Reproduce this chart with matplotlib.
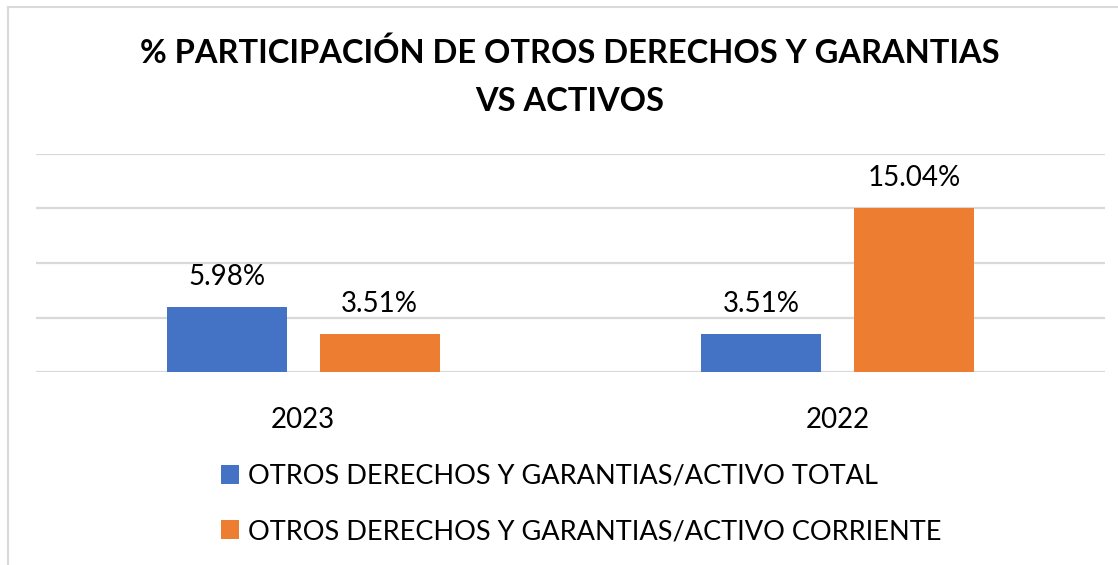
import matplotlib
matplotlib.use("Agg")
import matplotlib.pyplot as plt
import numpy as np
from matplotlib.patches import Patch
from matplotlib.lines import Line2D

categories = ["2023", "2022"]
series_names = ["OTROS DERECHOS Y GARANTIAS/ACTIVO TOTAL",
                "OTROS DERECHOS Y GARANTIAS/ACTIVO CORRIENTE"]
activo_total = [5.98, 3.51]
activo_corriente = [3.51, 15.04]
colors = ["#4472C4", "#ED7D31"]
title = "% PARTICIPACIÓN DE OTROS DERECHOS Y GARANTIAS\nVS ACTIVOS"

plt.rcParams['font.family'] = ['Lato', 'DejaVu Sans']

fig = plt.figure(figsize=(11.18, 5.65), dpi=100)
ax = fig.add_axes([36/1118, 1-372/565, (1105-36)/1118, (372-154)/565])

x = np.arange(len(categories))
w = 0.2245
off = 0.143
for vals, c, sgn in [(activo_total, colors[0], -1), (activo_corriente, colors[1], 1)]:
    bars = ax.bar(x + sgn*off, vals, width=w, color=c, zorder=3)
    for b, v in zip(bars, vals):
        ax.annotate(f"{v:.2f}%", (b.get_x()+b.get_width()/2, v), xytext=(0, 12),
                    textcoords="offset points", ha="center", va="bottom",
                    fontsize=20, color="#000000")

ax.set_xlim(-0.5, 1.5)
ax.set_ylim(0, 20)
ax.set_yticks([0, 5, 10, 15, 20])
ax.yaxis.grid(True, color="#D9D9D9", linewidth=1.6, zorder=0)
ax.set_axisbelow(True)
ax.tick_params(axis='y', left=False, labelleft=False)
ax.tick_params(axis='x', bottom=False, labelsize=20, pad=22, labelcolor="#000000")
ax.set_xticks(x)
ax.set_xticklabels(categories)
for s in ax.spines.values():
    s.set_visible(False)

fig.text(0.51, 1-77/565, title, ha="center", va="center", fontsize=23.5,
         fontweight="bold", linespacing=1.8, color="#000000")

handles = [Patch(facecolor=c, edgecolor='none') for c in colors]
fig.legend(handles, series_names, loc="center left",
           bbox_to_anchor=(207/1118, 1-504/565), frameon=False, fontsize=19.5,
           handlelength=0.68, handleheight=0.68, handletextpad=0.35,
           labelspacing=1.12, borderpad=0, labelcolor="#000000")

fig.add_artist(Line2D([7.5/1118, 7.5/1118], [0, 1-7/565], color="#D9D9D9", lw=1.5))
fig.add_artist(Line2D([7.5/1118, 1], [1-7/565, 1-7/565], color="#D9D9D9", lw=1.5))

fig.savefig("out.png", dpi=100, facecolor="white")
